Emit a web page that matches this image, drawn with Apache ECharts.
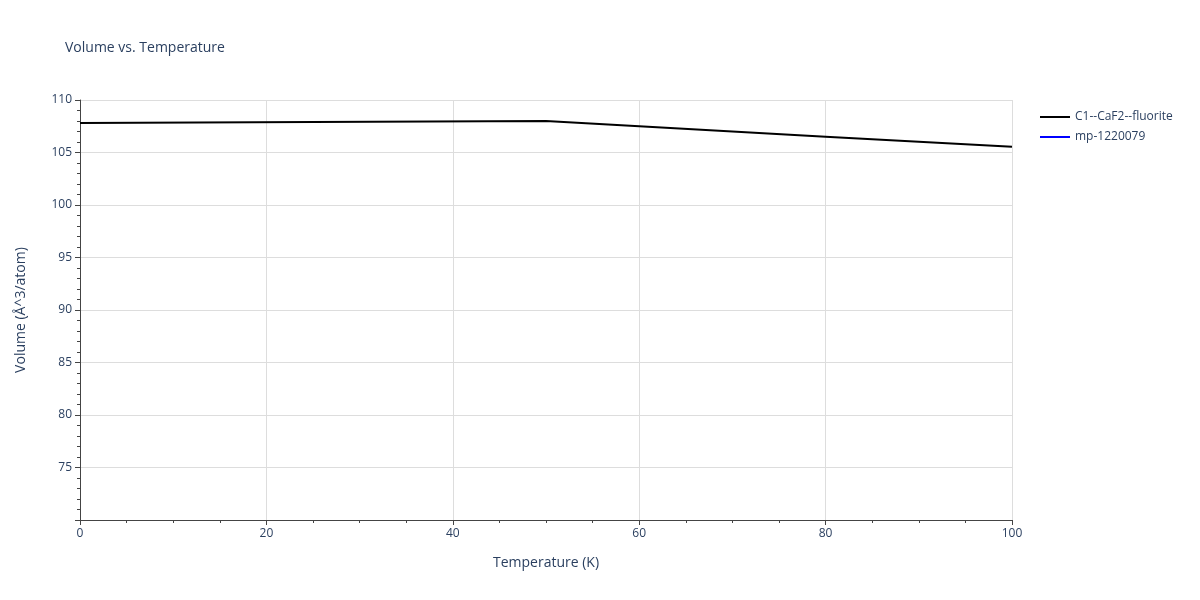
<!DOCTYPE html>
<html><head><meta charset="utf-8">
<script src="https://cdn.jsdelivr.net/npm/echarts@6/dist/echarts.min.js"></script>
<style>html,body{margin:0;padding:0;background:#fff}#c{width:1200px;height:600px}</style>
</head><body><div id="c"></div>
<script>
const temps = [0, 50, 60, 80, 100];
const fluorite = [107.82, 108.01, 107.5, 106.5, 105.55];
const mp = [];
const font = '"Open Sans", sans-serif';
const chart = echarts.init(document.getElementById('c'));
chart.setOption({
  animation: false,
  title: {text: 'Volume vs. Temperature', left: 60, top: 36, textStyle: {fontFamily: font, fontSize: 14, fontWeight: 'normal', color: '#2a3f5f'}},
  legend: {orient: 'vertical', left: 1035, top: 106, itemWidth: 30, itemHeight: 2, itemGap: 8, icon: 'rect',
    textStyle: {fontFamily: font, fontSize: 12, color: '#2a3f5f'},
    data: ['C1--CaF2--fluorite', 'mp-1220079']},
  grid: {left: 80, right: 188, top: 100, bottom: 80},
  xAxis: {type: 'value', min: 0, max: 100, interval: 20,
    name: 'Temperature (K)', nameLocation: 'middle', nameGap: 36,
    nameTextStyle: {fontFamily: font, fontSize: 14, color: '#2a3f5f'},
    axisLine: {show: true, onZero: false, lineStyle: {color: '#444'}},
    axisTick: {show: true, length: 5, lineStyle: {color: '#444'}},
    minorTick: {show: true, splitNumber: 4, length: 3, lineStyle: {color: '#444'}},
    axisLabel: {fontFamily: font, fontSize: 12, color: '#2a3f5f'},
    splitLine: {show: true, lineStyle: {color: '#ddd'}}},
  yAxis: {type: 'value', min: 70, max: 110, interval: 5,
    name: 'Volume (Å^3/atom)', nameLocation: 'middle', nameGap: 52,
    nameTextStyle: {fontFamily: font, fontSize: 14, color: '#2a3f5f'},
    axisLine: {show: true, lineStyle: {color: '#444'}},
    axisTick: {show: true, length: 5, lineStyle: {color: '#444'}},
    minorTick: {show: true, splitNumber: 5, length: 3, lineStyle: {color: '#444'}},
    axisLabel: {fontFamily: font, fontSize: 12, color: '#2a3f5f', showMinLabel: false},
    splitLine: {show: true, lineStyle: {color: '#ddd'}}},
  series: [
    {name: 'C1--CaF2--fluorite', type: 'line', data: temps.map((t,i)=>[t, fluorite[i]]), showSymbol: false, lineStyle: {color: '#000', width: 2}, itemStyle: {color: '#000'}, z: 2},
    {name: 'mp-1220079', type: 'line', data: mp, showSymbol: false, lineStyle: {color: '#0000ff', width: 2}, itemStyle: {color: '#0000ff'}, z: 1}
  ]
});
</script></body></html>
